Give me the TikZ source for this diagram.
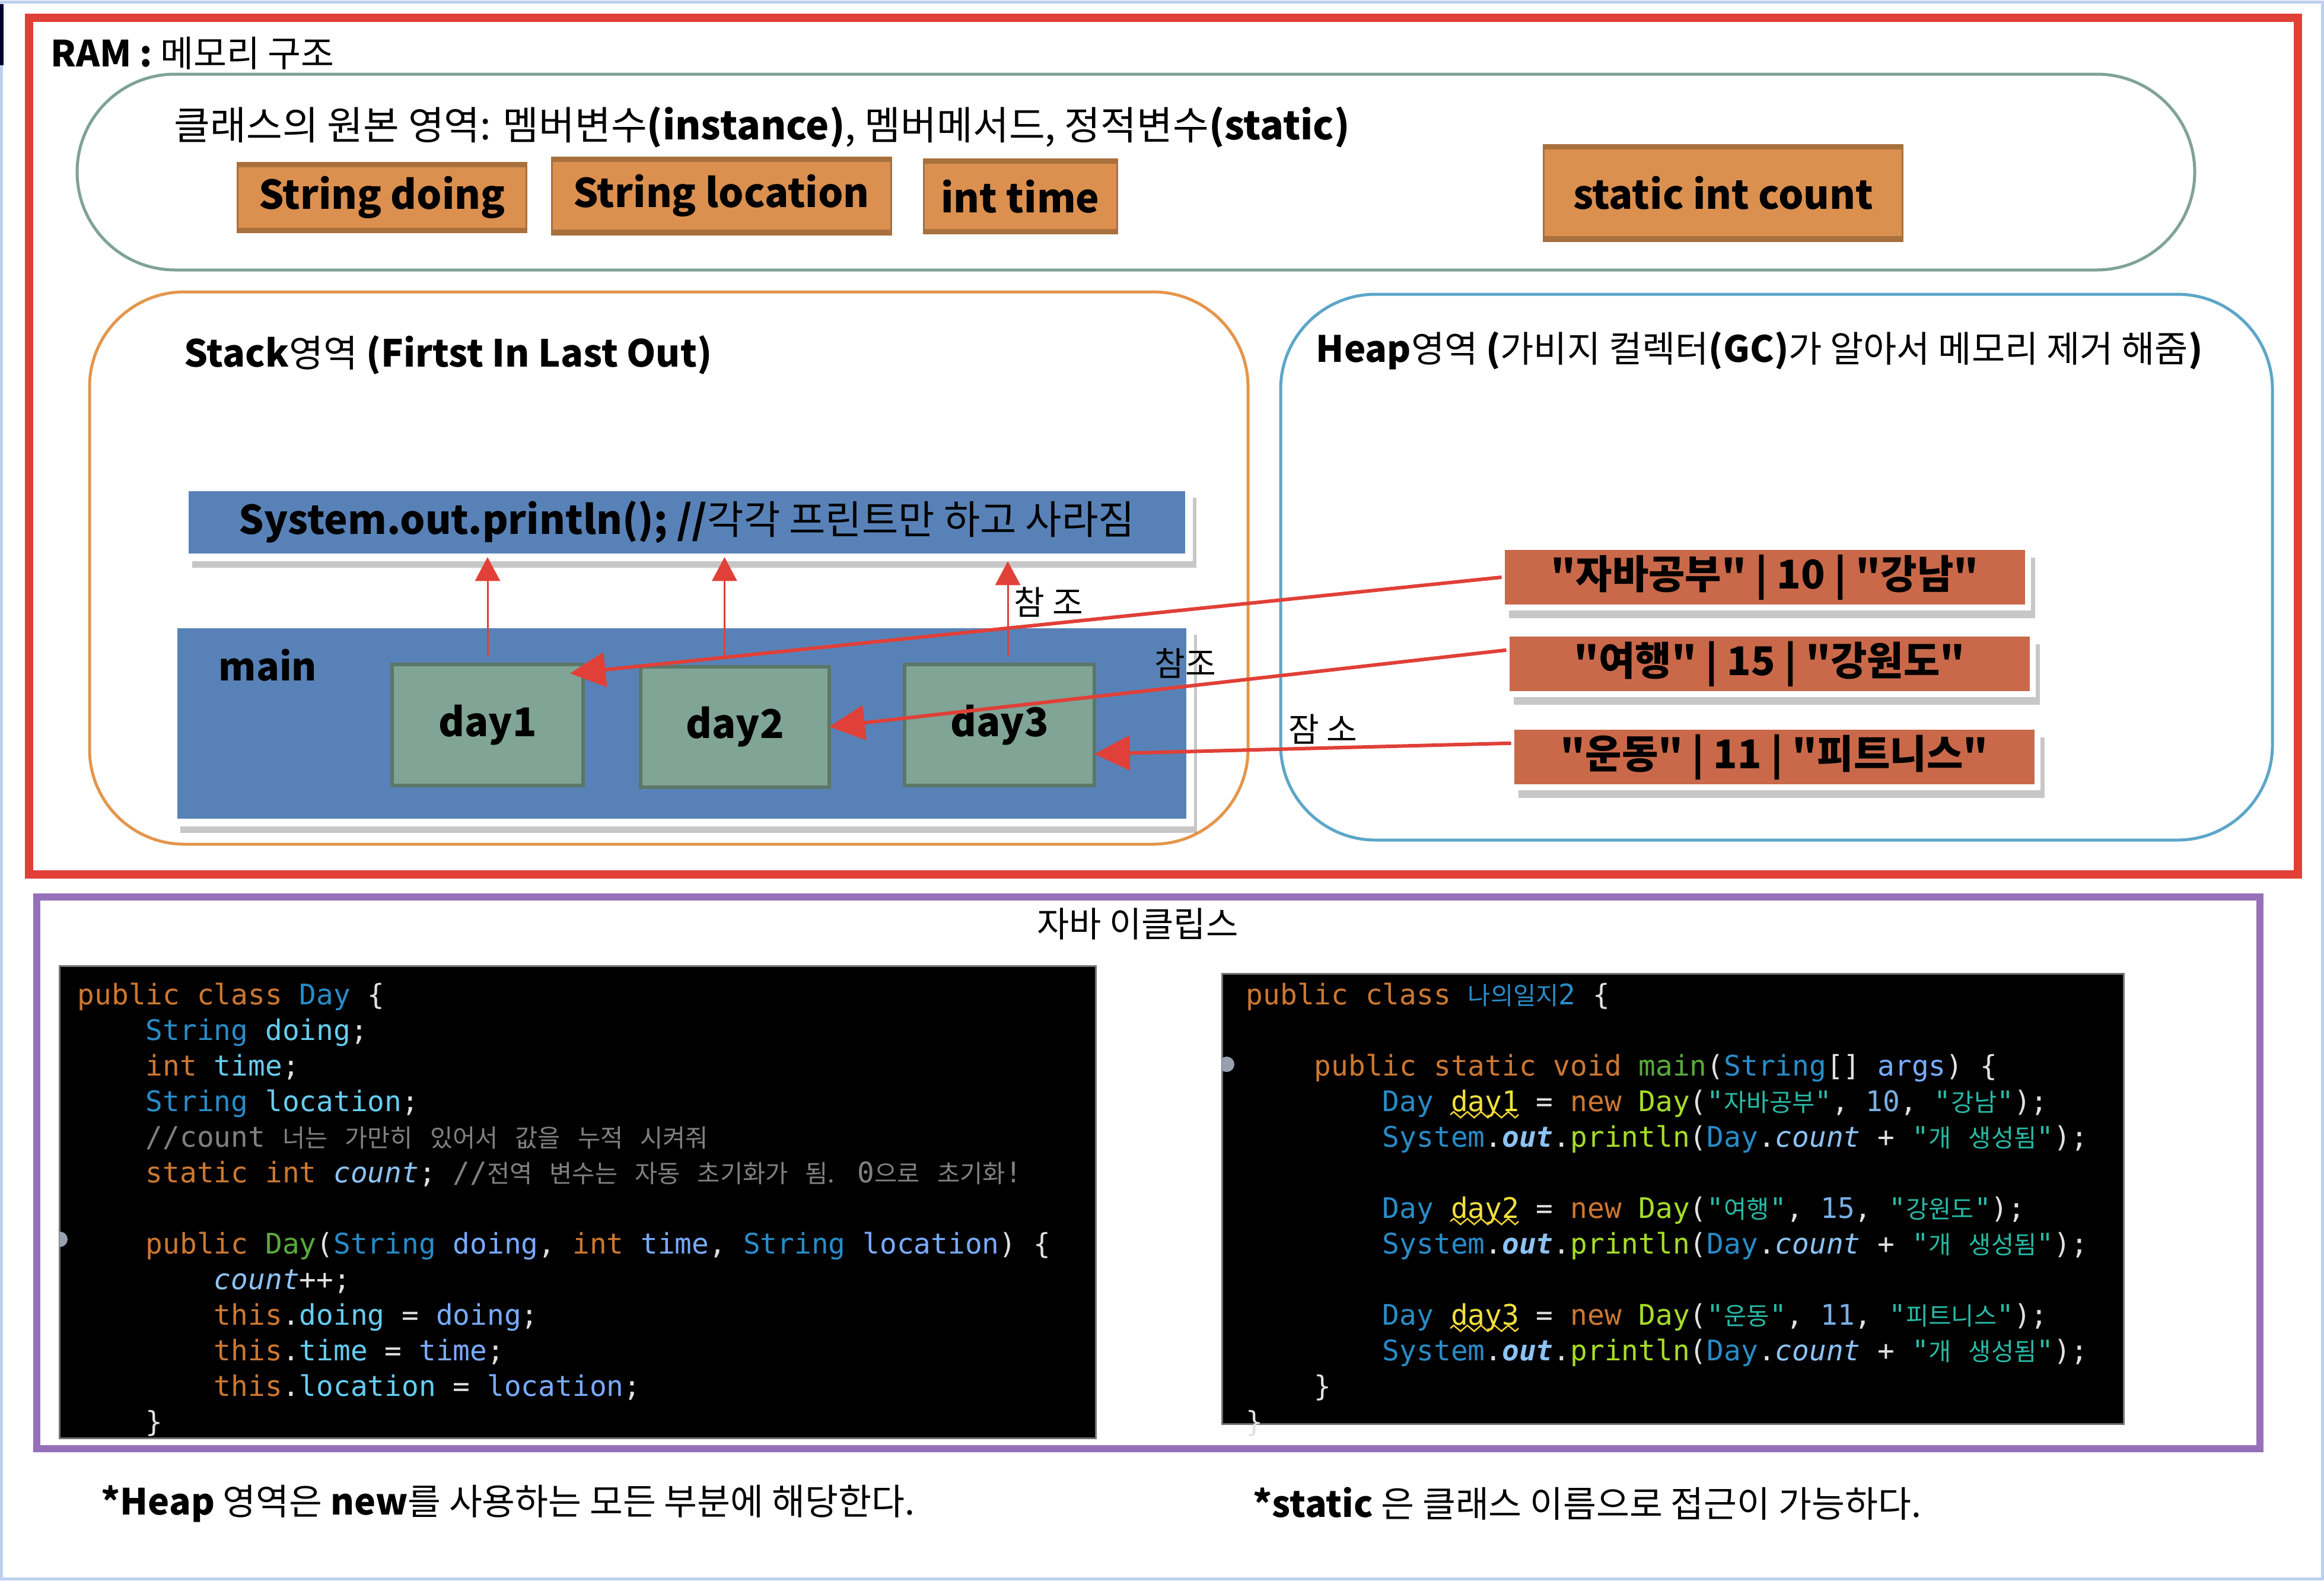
\documentclass[tikz,border=0pt]{standalone}
\usepackage{fontspec}
\setmainfont{Noto Sans CJK KR}
\newfontfamily\valfont{Noto Sans CJK KR}
\newfontfamily\jcodefont{DejaVu Sans Mono}
\newfontfamily\jkrfont{Noto Sans CJK KR}[Scale=0.87,WordSpace=3.1]
\usetikzlibrary{arrows.meta,shadows,calc,decorations.pathmorphing}

\definecolor{winblue}{RGB}{188,208,238}
\definecolor{ramred}{RGB}{224,64,56}
\definecolor{classgreen}{RGB}{127,163,147}
\definecolor{stackorange}{RGB}{228,150,76}
\definecolor{heapblue}{RGB}{92,166,200}
\definecolor{fieldorange}{RGB}{219,144,80}
\definecolor{fieldband}{RGB}{168,112,60}
\definecolor{memblue}{RGB}{88,130,183}
\definecolor{daygreen}{RGB}{128,164,149}
\definecolor{dayedge}{RGB}{92,118,104}
\definecolor{valred}{RGB}{201,105,74}
\definecolor{eclipsepurple}{RGB}{150,112,184}
\definecolor{markgray}{RGB}{150,160,175}
% code colours
\definecolor{codewhite}{RGB}{225,225,225}
\definecolor{kwcol}{RGB}{204,120,50}
\definecolor{tycol}{RGB}{40,140,200}
\definecolor{fdcol}{RGB}{102,205,240}
\definecolor{stcol}{RGB}{140,195,245}
\definecolor{pacol}{RGB}{121,171,255}
\definecolor{cmcol}{RGB}{128,128,128}
\definecolor{mdcol}{RGB}{90,170,60}
\definecolor{mccol}{RGB}{167,220,40}
\definecolor{lvcol}{RGB}{240,225,60}
\definecolor{strcol}{RGB}{40,185,165}
\definecolor{numcol}{RGB}{120,175,230}

\newcommand\jkw[1]{\textcolor{kwcol}{#1}}
\newcommand\jty[1]{\textcolor{tycol}{#1}}
\newcommand\jfd[1]{\textcolor{fdcol}{#1}}
\newcommand\jst[1]{\textcolor{stcol}{\itshape #1}}
\newcommand\jout[1]{\textcolor{stcol}{\bfseries\itshape #1}}
\newcommand\jpa[1]{\textcolor{pacol}{#1}}
\newcommand\jcm[1]{\textcolor{cmcol}{#1}}
\newcommand\jmd[1]{\textcolor{mdcol}{#1}}
\newcommand\jmc[1]{\textcolor{mccol}{#1}}
\newcommand\jlv[1]{\textcolor{lvcol}{#1}}
\newcommand\jstr[1]{\textcolor{strcol}{#1}}
\newcommand\jnum[1]{\textcolor{numcol}{#1}}
\newcommand\jkr[1]{{\jkrfont #1}}

\tikzset{
  fieldbox/.style={fill=fieldorange, draw=fieldband, line width=0.3mm, inner sep=0pt, outer sep=0pt,
    font=\fontsize{19}{23}\selectfont\bfseries,
    path picture={
      \fill[fieldband] (path picture bounding box.north west) rectangle ([yshift=-2.2pt]path picture bounding box.north east);
      \fill[fieldband] (path picture bounding box.south west) rectangle ([yshift=2.2pt]path picture bounding box.south east);}},
  membox/.style={fill=memblue, draw=white, line width=1.3mm, inner sep=0pt, outer sep=0pt,
    drop shadow={shadow xshift=1.2mm, shadow yshift=-1.8mm, fill=black, opacity=0.22}},
  daybox/.style={fill=daygreen, draw=dayedge, line width=0.6mm, inner sep=0pt, outer sep=0pt,
    font=\fontsize{19}{23}\selectfont\bfseries},
  valbox/.style={fill=valred, draw=white, line width=1mm, inner sep=0pt, outer sep=0pt,
    minimum width=8.87cm, minimum height=1.02cm, font=\valfont\fontsize{19}{23}\selectfont\bfseries,
    drop shadow={shadow xshift=1.2mm, shadow yshift=-1.8mm, fill=black, opacity=0.22}},
  refarrow/.style={-{Triangle[length=17pt,width=16.5pt]}, color=ramred, line width=0.6mm},
  uparrow/.style={-{Triangle[length=11.5pt,width=12pt]}, color=ramred, line width=0.3mm},
  reflabel/.style={font=\fontsize{16}{19}\selectfont, inner sep=0pt},
  codebox/.style={fill=black, draw=black!55, line width=0.3mm},
  codetext/.style={font=\jcodefont\fontsize{13.6}{17.07}\selectfont, text=codewhite, align=left,
    inner sep=0pt, anchor=north west},
  wavy/.style={lvcol!85!orange, line width=0.25mm, decorate,
    decoration={zigzag, segment length=0.23cm, amplitude=0.05cm}},
}

\begin{document}
\begin{tikzpicture}
\useasboundingbox (0,0) rectangle (39.18,-26.64);
\fill[white] (0,0) rectangle (39.18,-26.64);
\draw[winblue, line width=0.5mm] (0.03,-0.03) rectangle (39.15,-26.61);
\fill[black!80!blue] (0,-0.07) rectangle (0.06,-1.10);

% RAM
\draw[ramred, line width=1.4mm] (0.49,-0.30) rectangle (38.74,-14.74);
\node[anchor=base west, inner sep=0pt, font=\fontsize{17.3}{20}\selectfont] (ram) at (0.85,-1.12) {\textbf{RAM :} 메모리 구조};

% class area
\draw[classgreen, line width=0.5mm, rounded corners=1.65cm] (1.30,-1.25) rectangle (37.00,-4.55);
\node[anchor=base west, inner sep=0pt, font=\fontsize{18.8}{22}\selectfont] (classtitle) at (2.93,-2.35)
  {클래스의 원본 영역: 멤버변수\textbf{(instance)}, 멤버메서드, 정적변수\textbf{(static)}};
\node[fieldbox, minimum width=4.87cm, minimum height=1.17cm] (doing) at (6.44,-3.33) {String doing};
\node[fieldbox, minimum width=5.72cm, minimum height=1.30cm] (location) at (12.16,-3.30) {String location};
\node[fieldbox, minimum width=3.26cm, minimum height=1.25cm] (time) at (17.20,-3.31) {int time};
\node[fieldbox, minimum width=6.05cm, minimum height=1.62cm] (count) at (29.05,-3.25) {static int count};

% stack
\draw[stackorange, line width=0.5mm, rounded corners=1.6cm] (1.51,-4.92) rectangle (21.04,-14.23);
\node[anchor=base west, inner sep=0pt, font=\fontsize{17.9}{22}\selectfont] (stacktitle) at (3.10,-6.18)
  {\textbf{Stack}영역 \textbf{(Firtst In Last Out)}};
\node[membox, minimum width=16.93cm, minimum height=1.18cm, font=\fontsize{19}{23}\selectfont] (sysout) at (11.58,-8.80)
  {\textbf{System.out.println(); //}각각 프린트만 하고 사라짐};
\node[membox, minimum width=17.14cm, minimum height=3.34cm] (main) at (11.49,-12.19) {};
\node[anchor=base west, inner sep=0pt, font=\fontsize{18.3}{22}\selectfont\bfseries] (mainlabel) at (3.68,-11.47) {main};
\node[daybox, minimum width=3.22cm, minimum height=2.04cm] (day1) at (8.22,-12.22) {day1};
\node[daybox, minimum width=3.18cm, minimum height=2.03cm] (day2) at (12.39,-12.25) {day2};
\node[daybox, minimum width=3.20cm, minimum height=2.04cm] (day3) at (16.85,-12.22) {day3};

% heap
\draw[heapblue, line width=0.5mm, rounded corners=1.6cm] (21.59,-4.96) rectangle (38.31,-14.16);
\node[anchor=base west, inner sep=0pt, font=\fontsize{17.4}{21}\selectfont] (heaptitle) at (22.18,-6.10)
  {\textbf{Heap}영역 \textbf{(}가비지 컬렉터\textbf{(GC)}가 알아서 메모리 제거 해줌\textbf{)}};
\node[valbox] (val1) at (29.75,-9.73) {"자바공부" | 10 | "강남"};
\node[valbox] (val2) at (29.83,-11.19) {"여행" | 15 | "강원도"};
\node[valbox] (val3) at (29.91,-12.76) {"운동" | 11 | "피트니스"};

% references
\draw[uparrow] ([yshift=4pt]day1.north) -- (day1.north |- sysout.south);
\draw[uparrow] ([xshift=-5pt,yshift=4pt]day2.north) -- ([xshift=-5pt]day2.north |- sysout.south);
\draw[uparrow] ([xshift=4pt,yshift=4pt]day3.north) -- ([xshift=4pt,yshift=-2pt]day3.north |- sysout.south);
\draw[refarrow] (val1.west) -- ($(day1.north east)+(-0.22,-0.15)$);
\draw[refarrow] (val2.177) -- (day2.east);
\draw[refarrow] (val3.177) -- (day3.-17);
\node[reflabel] (ref1) at (17.68,-10.15) {참 조};
\node[reflabel] (ref2) at (19.98,-11.18) {참조};
\node[reflabel] (ref3) at (22.30,-12.29) {잠 소};

% eclipse
\draw[eclipsepurple, line width=1.2mm] (0.62,-15.12) rectangle (38.10,-24.42);
\node[anchor=base, inner sep=0pt, font=\fontsize{16.8}{20}\selectfont] (eclipse) at (19.18,-15.79) {자바 이클립스};

\draw[codebox] (1.00,-16.28) rectangle (18.47,-24.24);
\begin{scope}
  \clip (1.00,-16.28) rectangle (18.47,-24.24);
  \fill[markgray] (1.01,-20.89) circle (0.13);
\end{scope}
\node[codetext] (daycode) at (1.30,-16.56) {%
\jkw{public class} \jty{Day} \{\\
~~~~\jty{String} \jfd{doing};\\
~~~~\jkw{int} \jfd{time};\\
~~~~\jty{String} \jfd{location};\\
~~~~\jcm{//count \jkr{너는 가만히 있어서 값을 누적 시켜줘}}\\
~~~~\jkw{static int} \jst{count}; \jcm{//\jkr{전역 변수는 자동 초기화가 됨.} 0\jkr{으로 초기화}!}\\
\mbox{}\\
~~~~\jkw{public} \jmd{Day}(\jty{String} \jpa{doing}, \jkw{int} \jpa{time}, \jty{String} \jpa{location}) \{\\
~~~~~~~~\jst{count}++;\\
~~~~~~~~\jkw{this}.\jfd{doing} = \jpa{doing};\\
~~~~~~~~\jkw{this}.\jfd{time} = \jpa{time};\\
~~~~~~~~\jkw{this}.\jfd{location} = \jpa{location};\\
~~~~\}};

\draw[codebox] (20.60,-16.41) rectangle (35.80,-24.00);
\begin{scope}
  \clip (20.60,-16.41) rectangle (35.80,-24.00);
  \fill[markgray] (20.68,-17.94) circle (0.13);
\end{scope}
\node[codetext] (maincode) at (21.00,-16.56) {%
\jkw{public class} \jty{\jkr{나의일지}2} \{\\
\mbox{}\\
~~~~\jkw{public static void} \jmd{main}(\jty{String}[] \jpa{args}) \{\\
~~~~~~~~\jty{Day} \jlv{day1} = \jkw{new} \jmc{Day}(\jstr{"\jkr{자바공부}"}, \jnum{10}, \jstr{"\jkr{강남}"});\\
~~~~~~~~\jty{System}.\jout{out}.\jmc{println}(\jty{Day}.\jst{count} + \jstr{"\jkr{개 생성됨}"});\\
\mbox{}\\
~~~~~~~~\jty{Day} \jlv{day2} = \jkw{new} \jmc{Day}(\jstr{"\jkr{여행}"}, \jnum{15}, \jstr{"\jkr{강원도}"});\\
~~~~~~~~\jty{System}.\jout{out}.\jmc{println}(\jty{Day}.\jst{count} + \jstr{"\jkr{개 생성됨}"});\\
\mbox{}\\
~~~~~~~~\jty{Day} \jlv{day3} = \jkw{new} \jmc{Day}(\jstr{"\jkr{운동}"}, \jnum{11}, \jstr{"\jkr{피트니스}"});\\
~~~~~~~~\jty{System}.\jout{out}.\jmc{println}(\jty{Day}.\jst{count} + \jstr{"\jkr{개 생성됨}"});\\
~~~~\}\\
\}};
% warning marks under the unused locals
\foreach \y in {18.79,20.59,22.39}
  \draw[wavy] (24.45,-\y) -- ++(1.15,0);

% notes
\node[anchor=base west, inner sep=0pt, font=\fontsize{17.3}{20}\selectfont] (heapnote) at (1.70,-25.53)
  {\textbf{*Heap} 영역은 \textbf{new}를 사용하는 모든 부분에 해당한다.};
\node[anchor=base west, inner sep=0pt, font=\fontsize{17.3}{20}\selectfont] (staticnote) at (21.12,-25.57)
  {\textbf{*static} 은 클래스 이름으로 접근이 가능하다.};
\end{tikzpicture}
\end{document}
